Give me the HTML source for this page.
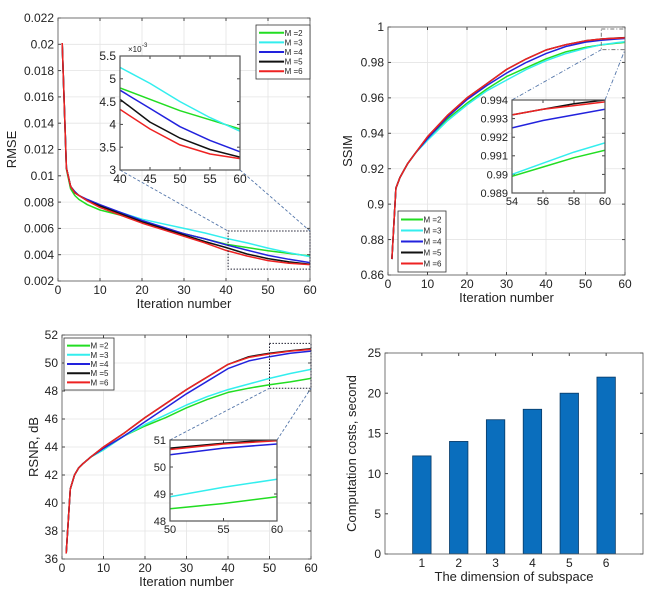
<!DOCTYPE html>
<html><head><meta charset="utf-8"><style>
html,body{margin:0;padding:0;background:#fff;width:657px;height:594px;overflow:hidden;}
svg{display:block;font-family:"Liberation Sans",sans-serif;}
</style></head><body>
<svg id="fig" width="657" height="594" viewBox="0 0 657 594" xmlns="http://www.w3.org/2000/svg"></svg>
<script>
const seriesNames = ["M =2","M =3","M =4","M =5","M =6"];
const seriesColors = ["#22dd22","#33eeee","#2222dd","#111111","#ee2222"];
// RMSE (x1e-3)
const rmseX = [1,2,3,4,5,7,10,15,20,25,30,35,40,45,50,55,60];
const rmseM2 = [20.1,10.5,9.0,8.5,8.2,7.8,7.4,7.0,6.5,6.0,5.6,5.2,4.8,4.55,4.3,4.1,3.9];
const rmseM3 = [20.1,10.6,9.2,8.7,8.5,8.1,7.7,7.2,6.7,6.35,6.0,5.65,5.25,4.9,4.5,4.15,3.85];
const rmseM4 = [20.1,10.6,9.2,8.8,8.5,8.2,7.8,7.2,6.6,6.1,5.6,5.2,4.75,4.35,3.95,3.65,3.4];
const rmseM5 = [20.1,10.6,9.2,8.7,8.5,8.1,7.7,7.1,6.5,6.0,5.5,5.0,4.55,4.05,3.7,3.45,3.28];
const rmseM6 = [20.1,10.6,9.2,8.7,8.5,8.1,7.6,7.0,6.4,5.9,5.4,4.9,4.33,3.9,3.55,3.35,3.25];
// SSIM
const ssimX = [1,2,3,4,5,7,10,15,20,25,30,35,40,45,50,54,56,58,60];
const ssimM2 = [0.869,0.909,0.915,0.919,0.923,0.929,0.937,0.948,0.957,0.965,0.972,0.977,0.982,0.986,0.9885,0.9899,0.9904,0.9909,0.9913];
const ssimM3 = [0.869,0.909,0.915,0.919,0.923,0.929,0.936,0.947,0.956,0.964,0.970,0.976,0.981,0.985,0.988,0.9900,0.9906,0.9912,0.9917];
const ssimM4 = [0.869,0.909,0.915,0.919,0.923,0.929,0.937,0.949,0.959,0.967,0.974,0.980,0.985,0.989,0.9915,0.9925,0.9929,0.9932,0.9935];
const ssimM5 = [0.869,0.909,0.915,0.919,0.923,0.929,0.938,0.950,0.960,0.968,0.976,0.982,0.987,0.990,0.9922,0.9932,0.9935,0.9938,0.9940];
const ssimM6 = [0.869,0.909,0.915,0.919,0.923,0.929,0.938,0.950,0.960,0.968,0.976,0.982,0.987,0.990,0.9922,0.9932,0.9935,0.9937,0.9939];
// RSNR
const rsnrX = [1,2,3,4,5,7,10,15,20,25,30,35,40,45,50,55,60];
const rsnrM2 = [36.4,41.0,42.0,42.5,42.8,43.3,43.8,44.8,45.5,46.1,46.8,47.4,47.9,48.2,48.45,48.65,48.9];
const rsnrM3 = [36.4,41.0,42.0,42.5,42.8,43.3,43.8,44.8,45.6,46.3,47.0,47.6,48.1,48.5,48.9,49.25,49.55];
const rsnrM4 = [36.4,41.0,42.0,42.5,42.8,43.3,43.9,44.8,45.8,46.8,47.8,48.7,49.6,50.15,50.45,50.7,50.85];
const rsnrM5 = [36.4,41.0,42.0,42.5,42.8,43.3,44.0,45.0,46.1,47.1,48.1,49.0,49.9,50.45,50.7,50.88,51.02];
const rsnrM6 = [36.4,41.0,42.0,42.5,42.8,43.3,44.0,45.0,46.1,47.1,48.1,49.0,49.9,50.4,50.65,50.85,50.97];
// Bars
const barCats = [1,2,3,4,5,6];
const barVals = [12.2,14.0,16.7,18.0,20.0,22.0];

const NS="http://www.w3.org/2000/svg";
const svg=document.getElementById('fig');
function el(tag,attrs,parent){const e=document.createElementNS(NS,tag);for(const k in attrs)e.setAttribute(k,attrs[k]);(parent||svg).appendChild(e);return e;}
function txt(s,x,y,size,anchor,parent,rot){const t=el('text',{x:x,y:y,'font-size':size,'text-anchor':anchor||'middle',fill:'#222'},parent);if(rot)t.setAttribute('transform',`rotate(-90 ${x} ${y})`);t.textContent=s;return t;}

let clipId=0;
function axes(o){
  const g=el('g',{});
  
  
  const sx=v=>o.x0+(v-o.xmin)/(o.xmax-o.xmin)*(o.x1-o.x0);
  const sy=v=>o.y1-(v-o.ymin)/(o.ymax-o.ymin)*(o.y1-o.y0);
  el('rect',{x:o.x0,y:o.y0,width:o.x1-o.x0,height:o.y1-o.y0,fill:'#fff'},g);
  if(o.grid){
    o.xt.forEach(v=>el('line',{x1:sx(v),x2:sx(v),y1:o.y0,y2:o.y1,stroke:'#e4e4e4','stroke-width':0.8},g));
    o.yt.forEach(v=>el('line',{x1:o.x0,x2:o.x1,y1:sy(v),y2:sy(v),stroke:'#e4e4e4','stroke-width':0.8},g));
  }
  const fs=o.fs||12;
  o.xt.forEach((v,i)=>{el('line',{x1:sx(v),x2:sx(v),y1:o.y1,y2:o.y1-3,stroke:'#444'},g);el('line',{x1:sx(v),x2:sx(v),y1:o.y0,y2:o.y0+3,stroke:'#444'},g);
    const t=txt(o.xl?o.xl[i]:String(v),sx(v),o.y1+fs+1,fs,'middle',g);});
  o.yt.forEach((v,i)=>{el('line',{x1:o.x0,x2:o.x0+3,y1:sy(v),y2:sy(v),stroke:'#444'},g);el('line',{x1:o.x1,x2:o.x1-3,y1:sy(v),y2:sy(v),stroke:'#444'},g);
    const t=txt(o.yl?o.yl[i]:String(v),o.x0-4,sy(v)+fs*0.35,fs,'end',g);});
  const cid='c'+(clipId++);
  const cp=el('clipPath',{id:cid},g);el('rect',{x:o.x0,y:o.y0,width:o.x1-o.x0,height:o.y1-o.y0},cp);
  const pg=el('g',{'clip-path':`url(#${cid})`},g);
  if(o.series){o.series.forEach((s,i)=>{
    const pts=o.X.map((x,j)=>sx(x).toFixed(1)+','+sy(s[j]).toFixed(1)).join(' ');
    const p=el('polyline',{points:pts,fill:'none',stroke:seriesColors[i],'stroke-width':1.5,'stroke-linejoin':'round'},pg);
    
    
  });}
  el('rect',{x:o.x0,y:o.y0,width:o.x1-o.x0,height:o.y1-o.y0,fill:'none',stroke:'#555','stroke-width':o.inset?1.2:0.8},g);
  if(o.xlabel){const t=txt(o.xlabel,(o.x0+o.x1)/2,o.y1+27,13,'middle',g);}
  if(o.ylabel){const t=txt(o.ylabel,o.ylx,(o.y0+o.y1)/2,13,'middle',g,true);}
  return {g,sx,sy,pg};
}
function legend(x,y,w,h){
  const g=el('g',{});
  
  
  el('rect',{x:x,y:y,width:w,height:h,fill:'#fff',stroke:'#333','stroke-width':0.8},g);
  const step=(h-6)/5;
  seriesNames.forEach((n,i)=>{
    const e=el('g',{},g);
    
    
    const yy=y+3+step*(i+0.5);
    el('line',{x1:x+3,x2:x+w*0.52,y1:yy,y2:yy,stroke:seriesColors[i],'stroke-width':2},e);
    txt(n,x+w*0.53,yy+3,8,'start',e);
  });
}
function conn(x1,y1,x2,y2,dash){el('line',{x1,y1,x2,y2,stroke:'#5577aa','stroke-width':0.9,'stroke-dasharray':dash});}

// Panel 1 RMSE
const r1=[rmseM2,rmseM3,rmseM4,rmseM5,rmseM6].map(a=>a.map(v=>v/1000));
const p1=axes({name:'rmse-chart',x0:58,x1:310,y0:18,y1:281,xmin:0,xmax:60,ymin:0.002,ymax:0.022,xt:[0,10,20,30,40,50,60],
  yt:[0.002,0.004,0.006,0.008,0.01,0.012,0.014,0.016,0.018,0.02,0.022],yl:['0.002','0.004','0.006','0.008','0.01','0.012','0.014','0.016','0.018','0.02','0.022'],
  grid:true,X:rmseX,series:r1,xlabel:'Iteration number',ylabel:'RMSE',ylx:16});
const zx0=p1.sx(40.5),zx1=p1.sx(60),zy0=p1.sy(0.0058),zy1=p1.sy(0.0029);
el('rect',{x:zx0,y:zy0,width:zx1-zx0,height:zy1-zy0,fill:'none',stroke:'#223','stroke-width':1,'stroke-dasharray':'1.5,1.5'});
conn(120,170,zx0,zy0,'3,2');conn(240,170,zx1,zy0,'3,2');
const i1=axes({name:'rmse-inset',x0:120,x1:240,y0:56,y1:170,xmin:40,xmax:60,ymin:3,ymax:5.5,xt:[40,45,50,55,60],yt:[3,3.5,4,4.5,5,5.5],grid:false,inset:true,X:rmseX,series:[rmseM2,rmseM3,rmseM4,rmseM5,rmseM6]});
txt('×10',128,52,8,'start');txt('-3',142,47,6,'start');
legend(256,25,54,54);

// Panel 2 SSIM
const p2=axes({name:'ssim-chart',x0:388,x1:625,y0:27,y1:275,xmin:0,xmax:60,ymin:0.86,ymax:1,xt:[0,10,20,30,40,50,60],
  yt:[0.86,0.88,0.9,0.92,0.94,0.96,0.98,1],yl:['0.86','0.88','0.9','0.92','0.94','0.96','0.98','1'],grid:true,X:ssimX,
  series:[ssimM2,ssimM3,ssimM4,ssimM5,ssimM6],xlabel:'Iteration number',ylabel:'SSIM',ylx:352});
const sx0=p2.sx(54),sx1=p2.sx(60),sy0=p2.sy(0.9989),sy1=p2.sy(0.9872);
el('rect',{x:sx0,y:sy0,width:sx1-sx0,height:sy1-sy0,fill:'none',stroke:'#777','stroke-width':1,'stroke-dasharray':'4,2,1,2'});
conn(512,100,sx0,sy1,'4,2,1,2');conn(605,100,sx1,sy1,'4,2,1,2');
axes({name:'ssim-inset',x0:512,x1:605,y0:100,y1:193,xmin:54,xmax:60,ymin:0.989,ymax:0.994,xt:[54,56,58,60],
  yt:[0.989,0.99,0.991,0.992,0.993,0.994],yl:['0.989','0.99','0.991','0.992','0.993','0.994'],fs:11,inset:true,X:ssimX,series:[ssimM2,ssimM3,ssimM4,ssimM5,ssimM6]});
legend(398,211,48,61);

// Panel 3 RSNR
const p3=axes({name:'rsnr-chart',x0:62,x1:311,y0:335,y1:559,xmin:0,xmax:60,ymin:36,ymax:52,xt:[0,10,20,30,40,50,60],
  yt:[36,38,40,42,44,46,48,50,52],grid:true,X:rsnrX,series:[rsnrM2,rsnrM3,rsnrM4,rsnrM5,rsnrM6],xlabel:'Iteration number',ylabel:'RSNR, dB',ylx:38});
const tx0=p3.sx(50),tx1=p3.sx(60),ty0=p3.sy(51.4),ty1=p3.sy(48.2);
el('rect',{x:tx0,y:ty0,width:tx1-tx0,height:ty1-ty0,fill:'none',stroke:'#223','stroke-width':1,'stroke-dasharray':'1.5,1.5'});
conn(170,440,tx0,ty1,'3,2');conn(277,440,tx1,ty1,'3,2');
axes({name:'rsnr-inset',x0:170,x1:277,y0:440,y1:521,xmin:50,xmax:60,ymin:48,ymax:51,xt:[50,55,60],yt:[48,49,50,51],fs:11,inset:true,X:rsnrX,series:[rsnrM2,rsnrM3,rsnrM4,rsnrM5,rsnrM6]});
legend(64,338,50,52);

// Panel 4 bars
const p4=axes({name:'computation-cost-chart',x0:385,x1:643,y0:353,y1:554,xmin:0,xmax:7,ymin:0,ymax:25,xt:barCats,yt:[0,5,10,15,20,25],grid:false,
  xlabel:'The dimension of subspace',ylabel:'Computation costs, second',ylx:356});
barCats.forEach((c,i)=>{
  const b=el('rect',{x:p4.sx(c-0.25),y:p4.sy(barVals[i]),width:p4.sx(c+0.25)-p4.sx(c-0.25),height:p4.sy(0)-p4.sy(barVals[i]),fill:'#0a6ebd',stroke:'#083a66','stroke-width':0.8},p4.pg);
  
  
});
</script>
</body></html>
